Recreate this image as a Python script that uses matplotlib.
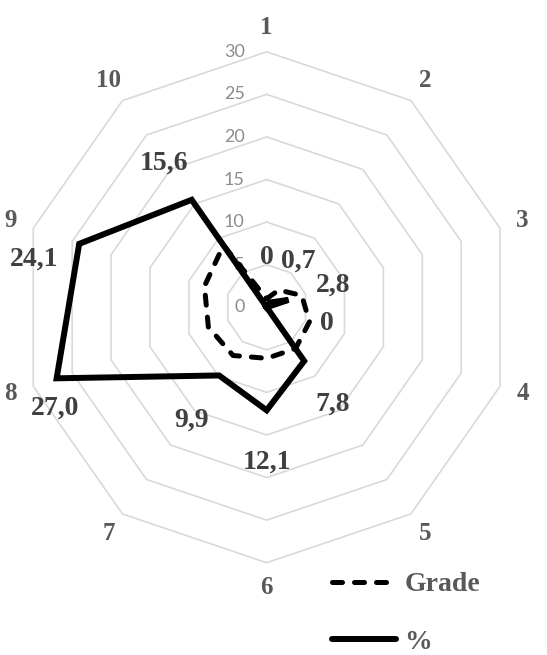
import numpy as np
import matplotlib
matplotlib.use("Agg")
import matplotlib.pyplot as plt
from matplotlib.lines import Line2D

categories = ["1", "2", "3", "4", "5", "6", "7", "8", "9", "10"]
grade = [1.0, 2.5, 4.5, 5.5, 6.0, 6.0, 7.0, 7.5, 8.0, 9.0]
pct = [0.0, 0.7, 2.8, 0.0, 7.8, 12.1, 9.9, 27.0, 24.1, 15.6]
pct_labels = ["0", "0,7", "2,8", "0", "7,8", "12,1", "9,9", "27,0", "24,1", "15,6"]
ticks = [0, 5, 10, 15, 20, 25, 30]

# label offsets in pixels (dx, dy)
label_off = [(0, 50), (28, 41), (45, 15), (60, -16), (28, -43),
             (0, -52), (-28, -45), (-2, -30), (-45, -15), (-28, 37)]

fig = plt.figure(figsize=(5.47, 6.55), dpi=100)
ax = fig.add_axes([0.0389, 0.1409, 0.8973, 0.780], projection="polar")
ax.set_aspect("auto")
ax.set_theta_zero_location("N")
ax.set_theta_direction(-1)
ax.set_ylim(0, 30)
ax.grid(False)
ax.spines["polar"].set_visible(False)
ax.set_xticks([])
ax.set_yticks([])
ax.patch.set_alpha(0)

n = len(categories)
theta = np.arange(n) * 2 * np.pi / n
theta_c = np.append(theta, theta[0])

for r in ticks[1:]:
    ax.plot(theta_c, [r] * (n + 1), color="#d9d9d9", lw=1.2, zorder=1, clip_on=False)

for r in ticks:
    ax.annotate(str(r), xy=(0, r), xytext=(-22, 0), textcoords="offset pixels",
                ha="right", va="center", fontsize=13, family="Lato",
                color="#8c8c8c", annotation_clip=False, zorder=2)

dash_style = dict(color="black", lw=3.6, dashes=(2.0, 2.4), dash_capstyle="round")
g = grade + grade[:1]
p = pct + pct[:1]
ax.plot(theta_c, g, zorder=3, clip_on=False, **dash_style)
ax.plot(theta_c, p, color="black", lw=4.3, solid_joinstyle="miter",
        zorder=4, clip_on=False)

for i in range(n):
    ax.text(theta[i], 32.9, categories[i], ha="center", va="center",
            fontsize=18, family="Liberation Serif", fontweight="bold",
            color="#595959", clip_on=False)
    ax.annotate(pct_labels[i], xy=(theta[i], pct[i]), xytext=label_off[i],
                textcoords="offset pixels", ha="center", va="center",
                fontsize=20, family="Liberation Serif", fontweight="bold",
                color="#404040", annotation_clip=False, zorder=5)

handles = [Line2D([], [], **dash_style),
           Line2D([], [], color="black", lw=4.3, solid_capstyle="round")]
leg = fig.legend(handles, ["Grade", "%"], loc="upper left",
                 bbox_to_anchor=(0.607, 0.127), frameon=False,
                 prop={"family": "Liberation Serif", "weight": "bold", "size": 20},
                 handlelength=2.3, handletextpad=0.3, labelspacing=1.15,
                 borderpad=0, borderaxespad=0)
for t in leg.get_texts():
    t.set_color("#595959")

fig.savefig("out.png", dpi=100)
